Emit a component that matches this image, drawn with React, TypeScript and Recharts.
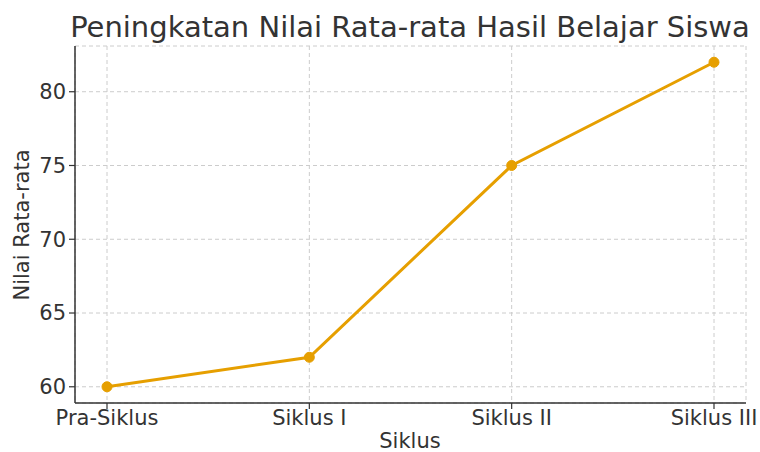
import { LineChart, Line, XAxis, YAxis, CartesianGrid } from 'recharts'

const categories = ['Pra-Siklus', 'Siklus I', 'Siklus II', 'Siklus III']
const nilai = [60, 62, 75, 82]
const yTicks = [60, 65, 70, 75, 80]

const data = categories.map((c, i) => ({ siklus: c, nilai: nilai[i] }))

const font = "'DejaVu Sans', sans-serif"
const ink = '#333'
const orange = '#E69F00'

export default function App() {
  return (
    <div style={{ position: 'absolute', left: 0, top: 0, width: 760, height: 452, background: '#fff', fontFamily: font, overflow: 'hidden' }}>
      <LineChart width={760} height={452} data={data} margin={{ top: 46, right: 14, bottom: 0, left: 0 }}>
        <CartesianGrid stroke='#cccccc' strokeDasharray='4 3' strokeWidth={1} />
        <XAxis
          dataKey='siklus'
          height={49}
          padding={{ left: 32, right: 32 }}
          axisLine={{ stroke: ink, strokeWidth: 1.5 }}
          tickLine={{ stroke: ink, strokeWidth: 1.2 }}
          tickSize={6}
          tick={{ fill: ink, fontSize: 21, fontFamily: font }}
          tickMargin={1}
        />
        <YAxis
          width={75}
          domain={[58.9, 83.1]}
          ticks={yTicks}
          allowDataOverflow
          axisLine={{ stroke: ink, strokeWidth: 1.5 }}
          tickLine={{ stroke: ink, strokeWidth: 1.2 }}
          tickSize={6}
          tick={{ fill: ink, fontSize: 21, fontFamily: font }}
          tickMargin={3}
        />
        <Line
          type='linear'
          dataKey='nilai'
          stroke={orange}
          strokeWidth={3}
          dot={{ r: 5, fill: orange, stroke: orange, strokeWidth: 1 }}
          isAnimationActive={false}
        />
      </LineChart>
      <div style={{ position: 'absolute', left: 0, width: 820, top: 9, textAlign: 'center', fontSize: 29, color: ink, whiteSpace: 'nowrap', lineHeight: '36px' }}>
        Peningkatan Nilai Rata-rata Hasil Belajar Siswa
      </div>
      <div style={{ position: 'absolute', left: 150, width: 520, top: 431, textAlign: 'center', fontSize: 21, color: ink, lineHeight: '21px' }}>
        Siklus
      </div>
      <div style={{ position: 'absolute', left: 22 - 100, width: 200, top: 225 - 13, textAlign: 'center', fontSize: 21, color: ink, lineHeight: '26px', transform: 'rotate(-90deg)' }}>
        Nilai Rata-rata
      </div>
    </div>
  )
}
